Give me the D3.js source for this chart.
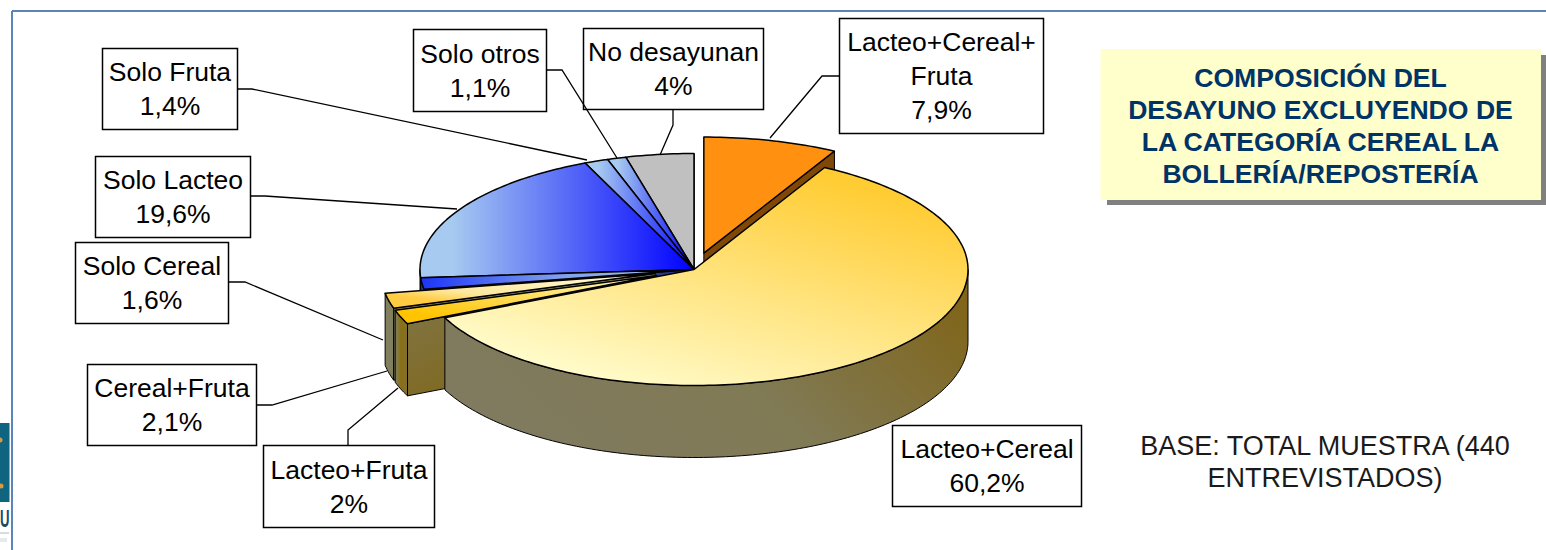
<!DOCTYPE html>
<html><head><meta charset="utf-8">
<style>html,body{margin:0;padding:0;background:#fff}svg{display:block}text{font-family:"Liberation Sans",Arial,sans-serif}</style>
<script src="https://cdn.jsdelivr.net/npm/d3@7/dist/d3.min.js"></script>
</head><body><script>
// ---- data (clockwise from 12 o'clock)
const categories = ["Lacteo+Cereal+Fruta","Lacteo+Cereal","Lacteo+Fruta","Cereal+Fruta","Solo Cereal","Solo Lacteo","Solo Fruta","Solo otros","No desayunan"];
const values     = [7.9,60.2,2,2.1,1.6,19.6,1.4,1.1,4];
const valueLabels= ["7,9%","60,2%","2%","2,1%","1,6%","19,6%","1,4%","1,1%","4%"];
const exploded   = ["Lacteo+Cereal+Fruta","Lacteo+Fruta","Cereal+Fruta"];
const drawOrder  = ["No desayunan","Solo otros","Solo Fruta","Solo Lacteo","Solo Cereal","Cereal+Fruta","Lacteo+Fruta","Lacteo+Cereal+Fruta","Lacteo+Cereal"];
const titleLines = ["COMPOSICIÓN DEL","DESAYUNO EXCLUYENDO DE","LA CATEGORÍA CEREAL LA","BOLLERÍA/REPOSTERÍA"];
const baseLines  = ["BASE: TOTAL MUESTRA (440","ENTREVISTADOS)"];

// ---- layout and style
const W=1546,H=550, cx=694, cy=269.5, rx=274, ry=116, depth=72, explodeBy=40/274;
const labelLayout = {
 "Lacteo+Cereal+Fruta":{box:[839,18,204,115],lines:["Lacteo+Cereal+","Fruta"],leader:[[839,76],[822,76],[770,138]]},
 "Lacteo+Cereal":{box:[892,425,189,81],lines:["Lacteo+Cereal"],leader:null},
 "Lacteo+Fruta":{box:[263,445,171,82],lines:["Lacteo+Fruta"],leader:[[348,445],[348,430],[398,388]]},
 "Cereal+Fruta":{box:[87,364,169,81],lines:["Cereal+Fruta"],leader:[[256,405],[272,405],[387,371]]},
 "Solo Cereal":{box:[75,242,153,81],lines:["Solo Cereal"],leader:[[228,282],[245,282],[383,340]]},
 "Solo Lacteo":{box:[95,156,155,81],lines:["Solo Lacteo"],leader:[[250,196],[265,196],[457,209]]},
 "Solo Fruta":{box:[102,48,135,81],lines:["Solo Fruta"],leader:[[237,89],[252,89],[587,160]]},
 "Solo otros":{box:[413,29,133,82],lines:["Solo otros"],leader:[[546,70],[562,70],[617,158]]},
 "No desayunan":{box:[583,28,180,81],lines:["No desayunan"],leader:[[673,109],[673,125],[660,155]]}
};
const svg=d3.select("body").append("svg").attr("width",W).attr("height",H);
const defs=svg.append("defs");
function grad(id,stops,x1,y1,x2,y2){
  const g=defs.append("linearGradient").attr("id",id).attr("x1",x1).attr("y1",y1).attr("x2",x2).attr("y2",y2);
  stops.forEach(s=>g.append("stop").attr("offset",s[0]).attr("stop-color",s[1]));
}
const blueStops=[[0.12,"#a6caf0"],[1,"#0000ff"]];
grad("blue",blueStops,0,0,1,0);
grad("blueBand",[[0,"#1c34f8"],[0.5,"#7f9fee"],[1,"#a6caf0"]],0,0,1,0);
grad("main",[[0,"#ffcc33"],[1,"#fffbca"]],0.82,0.1,0.25,0.95);
grad("mainWall",[[0,"#807a60"],[0.5,"#807a55"],[1,"#80651a"]],0,0.6,1,0.2);
grad("lf",[[0,"#ffc400"],[1,"#fff0a0"]],0,0.75,0.6,0);
grad("cf",[[0,"#ffcc44"],[0.3,"#ffe9a0"],[1,"#fff6c8"]],0,0.6,0.6,0);
grad("sideL",[[0,"#80805f"],[0.5,"#8a6f10"],[1,"#80703a"]],0,0,1,0);
grad("radialWall",[[0,"#80764a"],[1,"#806000"]],0,0.1,1,1);

const style={
 "Lacteo+Cereal+Fruta":{top:"#ff9010",wall:"#7f4806",radial:"#7f4806"},
 "Lacteo+Cereal":{top:"url(#main)",wall:"url(#mainWall)",radial:"#807a55"},
 "Lacteo+Fruta":{top:"url(#lf)",wall:"url(#sideL)",radial:"url(#radialWall)"},
 "Cereal+Fruta":{top:"url(#cf)",wall:"#80805f",radial:"#8c8a6a"},
 "Solo Cereal":{top:"url(#blueBand)",wall:"#2a3a90",radial:"#2a3a90"},
 "Solo Lacteo":{top:"url(#blue)",wall:"#2a3a90",radial:"#2a3a90"},
 "Solo Fruta":{top:"url(#blue)",wall:"#2a3a90",radial:"#2a3a90"},
 "Solo otros":{top:"url(#blue)",wall:"#2a3a90",radial:"#2a3a90"},
 "No desayunan":{top:"#c0c0c0",wall:"#606060",radial:"#606060"}
};

// scales from unit-pie coordinates to the screen
const xS=d3.scaleLinear().domain([-1,1]).range([cx-rx,cx+rx]);
const yS=d3.scaleLinear().domain([-1,1]).range([cy-ry,cy+ry]);
const line=d3.line().x(d=>d[0]).y(d=>d[1]);
const arcs=d3.pie().sort(null).value(d=>d.value)(categories.map((c,i)=>({name:c,value:values[i]})));

function unit(a,r=1){return [Math.sin(a)*r,-Math.cos(a)*r];}
function pt(u,off,dz=0){return [xS(u[0]+off[0]),yS(u[1]+off[1])+dz];}
function arcPts(a0,a1,off,dz=0){
  const n=Math.max(2,Math.ceil((a1-a0)/0.02));
  return d3.range(n+1).map(i=>pt(unit(a0+(a1-a0)*i/n),off,dz));
}
const root=svg.append("g");
const byName=new Map(arcs.map(a=>[a.data.name,a]));
const strokeW=1.5;
drawOrder.forEach(name=>{
  const a=byName.get(name), s=style[name], mid=(a.startAngle+a.endAngle)/2;
  const off=exploded.includes(name)?unit(mid,explodeBy):[0,0];
  const g=root.append("g");
  const apex=pt([0,0],off), apexB=pt([0,0],off,depth);
  // radial walls facing the viewer
  if(Math.sin(a.startAngle)<0) g.append("path").attr("d",line([apex,pt(unit(a.startAngle),off),pt(unit(a.startAngle),off,depth),apexB])+"Z").attr("fill",s.radial).attr("stroke","#000").attr("stroke-width",1);
  if(Math.sin(a.endAngle)>0) g.append("path").attr("d",line([apex,pt(unit(a.endAngle),off),pt(unit(a.endAngle),off,depth),apexB])+"Z").attr("fill",s.radial).attr("stroke","#000").attr("stroke-width",1);
  // outer curved wall on the near half
  const w0=Math.max(a.startAngle,Math.PI/2), w1=Math.min(a.endAngle,Math.PI*1.5);
  if(w1>w0){
    const pts=arcPts(w0,w1,off).concat(arcPts(w0,w1,off,depth).reverse());
    g.append("path").attr("d",line(pts)+"Z").attr("fill",s.wall).attr("stroke","#000").attr("stroke-width",1);
  }
  // top face
  const top=[apex].concat(arcPts(a.startAngle,a.endAngle,off));
  g.append("path").attr("d",line(top)+"Z").attr("fill",s.top).attr("stroke","#000").attr("stroke-width",strokeW).attr("stroke-linejoin","round");
});

// frame
svg.append("line").attr("x1",12).attr("x2",W).attr("y1",11).attr("y2",11).attr("stroke","#5b85b8").attr("stroke-width",2);
svg.append("line").attr("x1",12).attr("x2",12).attr("y1",11).attr("y2",H).attr("stroke","#5b85b8").attr("stroke-width",2);

// logo fragment at the left edge
svg.append("rect").attr("x",0).attr("y",423).attr("width",9.5).attr("height",79).attr("fill","#0f6580");
svg.append("circle").attr("cx",0).attr("cy",440).attr("r",2.5).attr("fill","#d89a40");
svg.append("circle").attr("cx",1).attr("cy",486).attr("r",2.5).attr("fill","#d89a40");
svg.append("text").attr("transform","translate(0,527) scale(0.55,1)").attr("font-size",24).attr("font-weight","bold").attr("fill","#1d4a5c").text("U");
svg.append("rect").attr("x",0).attr("y",532).attr("width",9).attr("height",2).attr("fill","#d5dde0");
svg.append("rect").attr("x",0).attr("y",538).attr("width",7).attr("height",4).attr("fill","#e6eaec");

// labels: boxes first, leader lines over them
const labels=svg.append("g");
categories.forEach((c,i)=>{
  const L=labelLayout[c],b=L.box;
  labels.append("rect").attr("x",b[0]+.5).attr("y",b[1]+.5).attr("width",b[2]).attr("height",b[3]).attr("fill","#fff").attr("stroke","#000").attr("stroke-width",1.5);
  const rows=L.lines.concat([valueLabels[i]]), lh=34, tot=lh*(rows.length-1);
  rows.forEach((t,k)=>labels.append("text").attr("x",b[0]+b[2]/2+.5).attr("y",b[1]+b[3]/2-tot/2+k*lh+9.5).attr("text-anchor","middle").attr("font-size",26.5).attr("fill","#000").text(t));
});
categories.forEach(c=>{
  const L=labelLayout[c];
  if(L.leader) labels.append("path").attr("d",line(L.leader)).attr("fill","none").attr("stroke","#000").attr("stroke-width",1.3);
});

// title box
svg.append("rect").attr("x",1107).attr("y",55).attr("width",440).attr("height",150).attr("fill","#808080");
svg.append("rect").attr("x",1100.5).attr("y",49).attr("width",440.5).attr("height",151).attr("fill","#ffffcc");
titleLines.forEach((t,i)=>svg.append("text").attr("x",1320.5).attr("y",87+i*32).attr("text-anchor","middle").attr("font-size",26.6).attr("font-weight","bold").attr("fill","#003366").text(t));
baseLines.forEach((t,i)=>svg.append("text").attr("x",1325).attr("y",455+i*32).attr("text-anchor","middle").attr("font-size",27).attr("fill","#1a1a1a").text(t));
</script></body></html>
